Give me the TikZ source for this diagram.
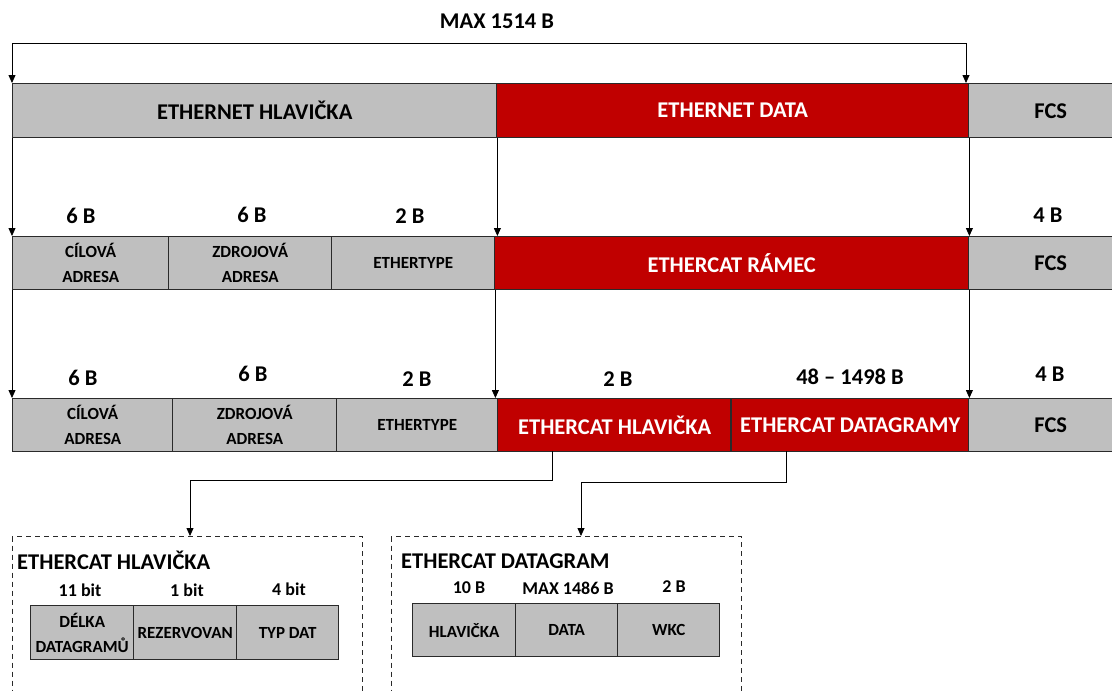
\documentclass[tikz,border=0pt]{standalone}
\usepackage{fontspec}
\setmainfont{Carlito}
\usetikzlibrary{arrows.meta}
\definecolor{cgray}{HTML}{BFBFBF}
\definecolor{cred}{HTML}{C00000}
\definecolor{cline}{HTML}{2A2A2A}
\begin{document}
\begin{tikzpicture}[x=1pt,y=-1pt,
  cell/.style={draw=cline,line width=1.4pt,anchor=north west,inner sep=0pt,align=center,font=\bfseries\fontsize{22.5}{26}\selectfont},
  gcell/.style={cell,fill=cgray,text=black},
  rcell/.style={cell,fill=cred,text=white},
  scell/.style={gcell,font=\bfseries\fontsize{17}{25}\selectfont},
  lbl/.style={font=\bfseries\fontsize{22.5}{26}\selectfont,inner sep=0pt},
  slbl/.style={font=\bfseries\fontsize{18}{22}\selectfont,inner sep=0pt},
  arr/.style={draw=black,line width=0.8pt,-{Triangle[width=7pt,length=8pt]}},
  ln/.style={draw=black,line width=0.8pt},
  dbox/.style={draw=cline,dashed,dash pattern=on 5pt off 4pt,line width=1pt,anchor=north west,inner sep=0pt,minimum width=350,minimum height=200}
]
\useasboundingbox (0,0) rectangle (1112,691);
\fill[white] (0,0) rectangle (1112,691);

% Row 1
\node[gcell,minimum width=484,minimum height=54] (eh) at (12,83) {ETHERNET HLAVIČKA};
\node[rcell,minimum width=472,minimum height=54] (ed) at (496,83) {ETHERNET DATA};
\node[gcell,minimum width=164,minimum height=54] (f1) at (968,83) {FCS};
\node[lbl] (max) at (497,21) {MAX 1514 B};
\coordinate (t1) at (12,43);
\coordinate (t2) at (966,43);
\draw[ln] (t1) -- (t2);
\draw[arr] (t1) -- (eh.north west);
\draw[arr] (t2) -- (t2 |- ed.north);

% Row 2
\node[scell,minimum width=156,minimum height=53] (ca1) at (12,236) {CÍLOVÁ\\ADRESA};
\node[scell,minimum width=163,minimum height=53] (za1) at (168,236) {ZDROJOVÁ\\ADRESA};
\node[scell,minimum width=163,minimum height=53] (et1) at (331,236) {ETHERTYPE};
\node[rcell,minimum width=474,minimum height=53] (ecr) at (494,236) {ETHERCAT RÁMEC};
\node[gcell,minimum width=164,minimum height=53] (f2) at (968,236) {FCS};
\node[lbl] (b1) at (81,216) {6 B};
\node[lbl] (b2) at (252,215) {6 B};
\node[lbl] (b3) at (410,216) {2 B};
\node[lbl] (b4) at (1048,215) {4 B};
\draw[arr] (eh.south west) -- (ca1.north west);
\draw[arr] (eh.south east) -- (eh.south east |- ecr.north);
\draw[arr] (ed.south east) -- (ed.south east |- f2.north);

% Row 3
\node[scell,minimum width=160,minimum height=53] (ca2) at (12,398) {CÍLOVÁ\\ADRESA};
\node[scell,minimum width=164,minimum height=53] (za2) at (172,398) {ZDROJOVÁ\\ADRESA};
\node[scell,minimum width=161,minimum height=53] (et2) at (336,398) {ETHERTYPE};
\node[rcell,minimum width=234,minimum height=53] (ech) at (497,398) {ETHERCAT HLAVIČKA};
\node[rcell,minimum width=237,minimum height=53] (ecd) at (731,398) {ETHERCAT DATAGRAMY};
\node[gcell,minimum width=164,minimum height=53] (f3) at (968,398) {FCS};
\draw[cline,line width=1.4pt] (ecd.north west) -- (ecd.south west);
\node[lbl] (c1) at (83,378) {6 B};
\node[lbl] (c2) at (253,374) {6 B};
\node[lbl] (c3) at (417,379) {2 B};
\node[lbl] (c4) at (618,379) {2 B};
\node[lbl] (c5) at (850,377) {48 – 1498 B};
\node[lbl] (c6) at (1050,374) {4 B};
\draw[arr] (ca1.south west) -- (ca2.north west);
\draw[arr] (et1.south east) -- (et1.south east |- ech.north);
\draw[arr] (ecr.south east) -- (ecr.south east |- f3.north);

% Dashed boxes
\node[dbox] (dh) at (12,536) {};
\node[dbox] (dd) at (391,536) {};
\coordinate (h1) at (552,451);
\coordinate (d1) at (786,451);
\draw[arr] (h1) -- ++(0,29) -| (dh.north -| 190,0);
\draw[arr] (d1) -- ++(0,31) -| (dd.north -| 581,0);

% Box 1 content
\node[lbl,anchor=west] (th) at (17,560) {ETHERCAT HLAVIČKA};
\node[slbl] (h11) at (80,590) {11 bit};
\node[slbl] (h12) at (187,590) {1 bit};
\node[slbl] (h13) at (289,589) {4 bit};
\node[scell,minimum width=103,minimum height=54] (dl) at (30,605) {DÉLKA\\DATAGRAMŮ};
\node[scell,minimum width=103,minimum height=54] (rz) at (133,605) {REZERVOVAN};
\node[scell,minimum width=102,minimum height=54] (td) at (236,605) {TYP DAT};

% Box 2 content
\node[lbl,anchor=west] (tdg) at (401,561) {ETHERCAT DATAGRAM};
\node[slbl] (g1) at (469,588) {10 B};
\node[slbl] (g2) at (568,588) {MAX 1486 B};
\node[slbl] (g3) at (674,587) {2 B};
\node[scell,minimum width=103,minimum height=53] (hl) at (412,603) {HLAVIČKA};
\node[scell,minimum width=102,minimum height=53] (da) at (515,603) {DATA};
\node[scell,minimum width=102,minimum height=53] (wk) at (617,603) {WKC};
\end{tikzpicture}
\end{document}
